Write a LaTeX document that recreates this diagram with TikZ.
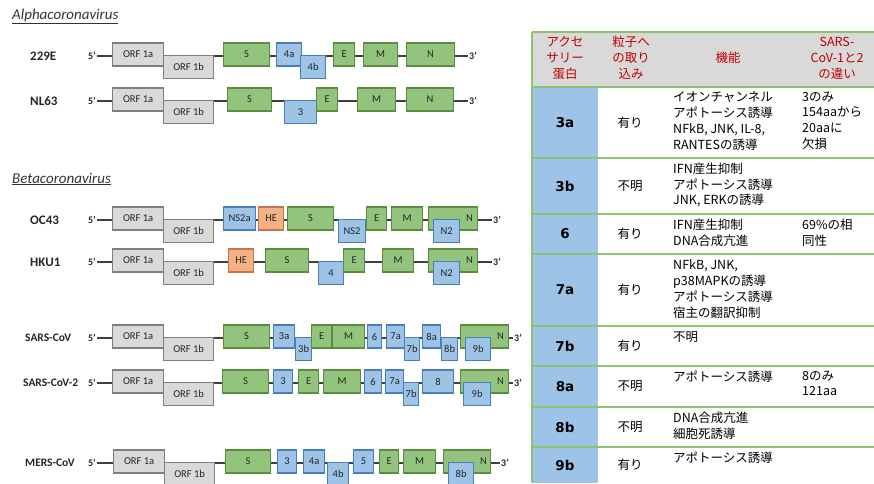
\documentclass[tikz,border=0pt]{standalone}
\usepackage{fontspec}
\setmainfont{Carlito}
\newfontfamily\jpfont{Noto Sans CJK JP}
\newfontfamily\lblfont{DejaVu Sans}
\usetikzlibrary{backgrounds}

\definecolor{orfgray}{HTML}{D9D9D9}
\definecolor{orfedge}{HTML}{7F7F7F}
\definecolor{strgreen}{HTML}{93C47D}
\definecolor{stredge}{HTML}{5E8C3F}
\definecolor{accblue}{HTML}{9DC3E6}
\definecolor{accedge}{HTML}{4A7EBB}
\definecolor{heorange}{HTML}{F4B183}
\definecolor{heedge}{HTML}{C0764A}
\definecolor{genetext}{HTML}{262626}
\definecolor{headgray}{HTML}{D9D9D9}
\definecolor{headred}{HTML}{C00000}
\definecolor{colblue}{HTML}{9DC3E6}
\definecolor{gridgreen}{HTML}{8DC26F}

\begin{document}
\begin{tikzpicture}[
    x=1pt, y=-1pt,
    gene/.style={
        draw,
        line width=1.2pt,
        minimum height=23pt,
        inner sep=0pt,
        anchor=west,
        text=genetext,
        font=\fontsize{10.5}{12}\selectfont
    },
    orfbox/.style={gene, fill=orfgray, draw=orfedge},
    strbox/.style={gene, fill=strgreen, draw=stredge},
    accbox/.style={gene, fill=accblue, draw=accedge},
    hebox/.style={gene, fill=heorange, draw=heedge},
    genelbl/.style={anchor=east, inner sep=0pt, text=genetext,
        font=\fontsize{10.5}{12}\selectfont},
    endlbl/.style={inner sep=1pt, text=genetext,
        font=\bfseries\fontsize{10}{12}\selectfont},
    strainlbl/.style={anchor=west, inner sep=0pt, text=genetext,
        font=\bfseries\fontsize{11.5}{14}\selectfont},
    shortlbl/.style={strainlbl,
        font=\bfseries\fontsize{13}{15}\selectfont},
    classlbl/.style={anchor=west, inner sep=0pt, text=black!80,
        font=\itshape\fontsize{15}{17}\selectfont},
    backbone/.style={draw=black!75, line width=1.2pt},
    gridline/.style={draw=gridgreen, line width=1.3pt},
    headtxt/.style={align=center, inner sep=0pt, text=headred,
        font=\jpfont\fontsize{12.5}{16}\selectfont},
    rowlbl/.style={inner sep=0pt,
        font=\lblfont\bfseries\fontsize{13.5}{16}\selectfont},
    celltxt/.style={inner sep=0pt,
        font=\jpfont\fontsize{12.5}{15.7}\selectfont},
    celltop/.style={anchor=north west, align=left, inner sep=0pt,
        execute at begin node=\strut,
        font=\jpfont\fontsize{12.5}{15.8}\selectfont}
]

\def\upy{-1.5}
\def\dny{11}

\useasboundingbox (0,0) rectangle (874,483);

% ---------- genome maps ----------
\node[classlbl] (alpha) at (12,16) {\underline{Alphacoronavirus}};
\node[classlbl] (beta) at (12,179) {\underline{Betacoronavirus}};

\begin{scope}[shift={(0,56)}]
    \node[shortlbl] (e229-name) at (30,0) {229E};
    \node[endlbl, anchor=east] (e229-5) at (97,0) {5'};
    \node[orfbox, minimum width=51pt] (e229-1a) at (112,\upy) {ORF 1a};
    \node[orfbox, minimum width=50pt] (e229-1b) at (163,\dny) {ORF 1b};
    \node[strbox, minimum width=46pt] (e229-S) at (223,\upy) {S};
    \node[accbox, minimum width=25pt] (e229-4a) at (276,\upy) {4a};
    \node[accbox, minimum width=25pt] (e229-4b) at (300,\dny) {4b};
    \node[strbox, minimum width=21pt] (e229-E) at (333,\upy) {E};
    \node[strbox, minimum width=34pt] (e229-M) at (363,\upy) {M};
    \node[strbox, minimum width=48pt] (e229-N) at (406,\upy) {N};
    \node[endlbl, anchor=west] (e229-3) at (468,0) {3'};
\end{scope}

\begin{scope}[shift={(0,101)}]
    \node[shortlbl] (nl63-name) at (30,0) {NL63};
    \node[endlbl, anchor=east] (nl63-5) at (97,0) {5'};
    \node[orfbox, minimum width=51pt] (nl63-1a) at (112,\upy) {ORF 1a};
    \node[orfbox, minimum width=50pt] (nl63-1b) at (163,\dny) {ORF 1b};
    \node[strbox, minimum width=44pt] (nl63-S) at (227,\upy) {S};
    \node[accbox, minimum width=32pt] (nl63-3) at (284,\dny) {3};
    \node[strbox, minimum width=21pt] (nl63-E) at (316,\upy) {E};
    \node[strbox, minimum width=38pt] (nl63-M) at (357,\upy) {M};
    \node[strbox, minimum width=47pt] (nl63-N) at (406,\upy) {N};
    \node[endlbl, anchor=west] (nl63-3e) at (468,0) {3'};
\end{scope}

\begin{scope}[shift={(0,220)}]
    \node[shortlbl] (oc43-name) at (30,0) {OC43};
    \node[endlbl, anchor=east] (oc43-5) at (97,0) {5'};
    \node[orfbox, minimum width=51pt] (oc43-1a) at (112,\upy) {ORF 1a};
    \node[orfbox, minimum width=50pt] (oc43-1b) at (163,\dny) {ORF 1b};
    \node[accbox, minimum width=32pt] (oc43-ns2a) at (223,\upy) {NS2a};
    \node[hebox, minimum width=25pt] (oc43-he) at (258,\upy) {HE};
    \node[strbox, minimum width=46pt] (oc43-S) at (287,\upy) {S};
    \node[accbox, minimum width=27pt] (oc43-ns2) at (338,\dny) {NS2};
    \node[strbox, minimum width=20pt] (oc43-E) at (366,\upy) {E};
    \node[strbox, minimum width=31pt] (oc43-M) at (391,\upy) {M};
    \node[strbox, minimum width=49pt] (oc43-N) at (428,\upy) {};
    \node[accbox, minimum width=26pt] (oc43-N2) at (433,\dny) {N2};
    \node[genelbl] (oc43-Nt) at ([xshift=-5pt]oc43-N.east) {N};
    \node[endlbl, anchor=west] (oc43-3) at (492,0) {3'};
\end{scope}

\begin{scope}[shift={(0,262)}]
    \node[shortlbl] (hku1-name) at (30,0) {HKU1};
    \node[endlbl, anchor=east] (hku1-5) at (97,0) {5'};
    \node[orfbox, minimum width=51pt] (hku1-1a) at (112,\upy) {ORF 1a};
    \node[orfbox, minimum width=50pt] (hku1-1b) at (163,\dny) {ORF 1b};
    \node[hebox, minimum width=25pt] (hku1-he) at (228,\upy) {HE};
    \node[strbox, minimum width=43pt] (hku1-S) at (265,\upy) {S};
    \node[accbox, minimum width=25pt] (hku1-4) at (318,\dny) {4};
    \node[strbox, minimum width=21pt] (hku1-E) at (343,\upy) {E};
    \node[strbox, minimum width=31pt] (hku1-M) at (382,\upy) {M};
    \node[strbox, minimum width=49pt] (hku1-N) at (428,\upy) {};
    \node[accbox, minimum width=26pt] (hku1-N2) at (433,\dny) {N2};
    \node[genelbl] (hku1-Nt) at ([xshift=-5pt]hku1-N.east) {N};
    \node[endlbl, anchor=west] (hku1-3) at (492,0) {3'};
\end{scope}

\begin{scope}[shift={(0,338)}]
    \node[strainlbl] (sars1-name) at (25,0) {SARS-CoV};
    \node[endlbl, anchor=east] (sars1-5) at (97,0) {5'};
    \node[orfbox, minimum width=51pt] (sars1-1a) at (112,\upy) {ORF 1a};
    \node[orfbox, minimum width=50pt] (sars1-1b) at (163,\dny) {ORF 1b};
    \node[strbox, minimum width=46pt] (sars1-S) at (223,\upy) {S};
    \node[accbox, minimum width=21pt] (sars1-3a) at (273,\upy) {3a};
    \node[accbox, minimum width=16pt] (sars1-3b) at (295,\dny) {3b};
    \node[strbox, minimum width=20pt] (sars1-E) at (311,\upy) {E};
    \node[strbox, minimum width=32pt] (sars1-M) at (332,\upy) {M};
    \node[accbox, minimum width=14pt] (sars1-6) at (367,\upy) {6};
    \node[accbox, minimum width=18pt] (sars1-7a) at (386,\upy) {7a};
    \node[accbox, minimum width=15pt] (sars1-7b) at (404,\dny) {7b};
    \node[accbox, minimum width=18pt] (sars1-8a) at (422,\upy) {8a};
    \node[accbox, minimum width=16pt] (sars1-8b) at (441,\dny) {8b};
    \node[strbox, minimum width=48pt] (sars1-N) at (460,\upy) {};
    \node[accbox, minimum width=25pt] (sars1-9b) at (465,\dny) {9b};
    \node[genelbl] (sars1-Nt) at ([xshift=-5pt]sars1-N.east) {N};
    \node[endlbl, anchor=west] (sars1-3) at (513,0) {3'};
\end{scope}

\begin{scope}[shift={(0,383)}]
    \node[strainlbl] (sars2-name) at (23,0) {SARS-CoV-2};
    \node[endlbl, anchor=east] (sars2-5) at (97,0) {5'};
    \node[orfbox, minimum width=51pt] (sars2-1a) at (112,\upy) {ORF 1a};
    \node[orfbox, minimum width=50pt] (sars2-1b) at (163,\dny) {ORF 1b};
    \node[strbox, minimum width=46pt] (sars2-S) at (222,\upy) {S};
    \node[accbox, minimum width=19pt] (sars2-3) at (273,\upy) {3};
    \node[strbox, minimum width=20pt] (sars2-E) at (298,\upy) {E};
    \node[strbox, minimum width=37pt] (sars2-M) at (323,\upy) {M};
    \node[accbox, minimum width=17pt] (sars2-6) at (364,\upy) {6};
    \node[accbox, minimum width=18pt] (sars2-7a) at (385,\upy) {7a};
    \node[accbox, minimum width=15pt] (sars2-7b) at (403,\dny) {7b};
    \node[accbox, minimum width=31pt] (sars2-8) at (422,\upy) {8};
    \node[strbox, minimum width=48pt] (sars2-N) at (460,\upy) {};
    \node[accbox, minimum width=27pt] (sars2-9b) at (463,\dny) {9b};
    \node[genelbl] (sars2-Nt) at ([xshift=-5pt]sars2-N.east) {N};
    \node[endlbl, anchor=west] (sars2-3) at (513,0) {3'};
\end{scope}

\begin{scope}[shift={(0,463)}]
    \node[strainlbl] (mers-name) at (25,0) {MERS-CoV};
    \node[endlbl, anchor=east] (mers-5) at (97,0) {5'};
    \node[orfbox, minimum width=51pt] (mers-1a) at (113,\upy) {ORF 1a};
    \node[orfbox, minimum width=50pt] (mers-1b) at (164,\dny) {ORF 1b};
    \node[strbox, minimum width=45pt] (mers-S) at (225,\upy) {S};
    \node[accbox, minimum width=19pt] (mers-3) at (277,\upy) {3};
    \node[accbox, minimum width=21pt] (mers-4a) at (303,\upy) {4a};
    \node[accbox, minimum width=21pt] (mers-4b) at (327,\dny) {4b};
    \node[accbox, minimum width=20pt] (mers-5g) at (353,\upy) {5};
    \node[strbox, minimum width=19pt] (mers-E) at (379,\upy) {E};
    \node[strbox, minimum width=32pt] (mers-M) at (403,\upy) {M};
    \node[strbox, minimum width=47pt] (mers-N) at (443,\upy) {};
    \node[accbox, minimum width=25pt] (mers-8b) at (448,\dny) {8b};
    \node[genelbl] (mers-Nt) at ([xshift=-4pt]mers-N.east) {N};
    \node[endlbl, anchor=west] (mers-3) at (500,0) {3'};
\end{scope}

\begin{scope}[on background layer]
    \draw[backbone] (e229-5) -- (e229-3);
    \draw[backbone] (nl63-5) -- (nl63-3e);
    \draw[backbone] (oc43-5) -- (oc43-3);
    \draw[backbone] (hku1-5) -- (hku1-3);
    \draw[backbone] (sars1-5) -- (sars1-3);
    \draw[backbone] (sars2-5) -- (sars2-3);
    \draw[backbone] (mers-5) -- (mers-3);
\end{scope}

% ---------- accessory protein table ----------
\fill[headgray] (532,32) rectangle (874,87);
\fill[colblue] (532,87) rectangle (598,483);

\draw[gridline]
    (532,32) -- (874,32)
    (532,87) -- (874,87)
    (532,158) -- (874,158)
    (532,214) -- (874,214)
    (532,254) -- (874,254)
    (532,326) -- (874,326)
    (532,366) -- (874,366)
    (532,407) -- (874,407)
    (532,447) -- (874,447);
\draw[gridline] (532,32) -- (532,483);

\node[headtxt] (h-acc) at (565,58) {アクセ\\サリー\\蛋白};
\node[headtxt] (h-inc) at (631,58) {粒子へ\\の取り\\込み};
\node[headtxt] (h-fun) at (728,58) {機能};
\node[headtxt] (h-dif) at (837,58) {SARS-\\CoV-1と2\\の違い};

\node[rowlbl] (r-3a) at (565,122.5) {3a};
\node[rowlbl] (r-3b) at (565,186) {3b};
\node[rowlbl] (r-6)  at (565,234) {6};
\node[rowlbl] (r-7a) at (565,290) {7a};
\node[rowlbl] (r-7b) at (565,346) {7b};
\node[rowlbl] (r-8a) at (565,386.5) {8a};
\node[rowlbl] (r-8b) at (565,427) {8b};
\node[rowlbl] (r-9b) at (565,465) {9b};

\node[celltxt] (p-3a) at (630,122.5) {有り};
\node[celltxt] (p-3b) at (630,186) {不明};
\node[celltxt] (p-6)  at (630,234) {有り};
\node[celltxt] (p-7a) at (630,290) {有り};
\node[celltxt] (p-7b) at (630,346) {有り};
\node[celltxt] (p-8a) at (630,386.5) {不明};
\node[celltxt] (p-8b) at (630,427) {不明};
\node[celltxt] (p-9b) at (630,465) {有り};

\node[celltop] (f-3a) at (673,91.5)
    {イオンチャンネル\\アポトーシス誘導\\NFkB, JNK, IL-8,\\RANTESの誘導};
\node[celltop] (f-3b) at (673,162.5)
    {IFN産生抑制\\アポトーシス誘導\\JNK, ERKの誘導};
\node[celltop] (f-6) at (673,218.5)
    {IFN産生抑制\\DNA合成亢進};
\node[celltop] (f-7a) at (673,259.5)
    {NFkB, JNK,\\p38MAPKの誘導\\アポトーシス誘導\\宿主の翻訳抑制};
\node[celltop] (f-7b) at (673,330.5) {不明};
\node[celltop] (f-8a) at (673,370.5) {アポトーシス誘導};
\node[celltop] (f-8b) at (673,411.5)
    {DNA合成亢進\\細胞死誘導};
\node[celltop] (f-9b) at (673,451.5) {アポトーシス誘導};

\node[celltop] (d-3a) at (802,91.5)
    {3のみ\\154aaから\\20aaに\\欠損};
\node[celltop] (d-6) at (802,218.5)
    {69\%の相\\同性};
\node[celltop] (d-8a) at (802,370.5)
    {8のみ\\121aa};

\end{tikzpicture}
\end{document}
